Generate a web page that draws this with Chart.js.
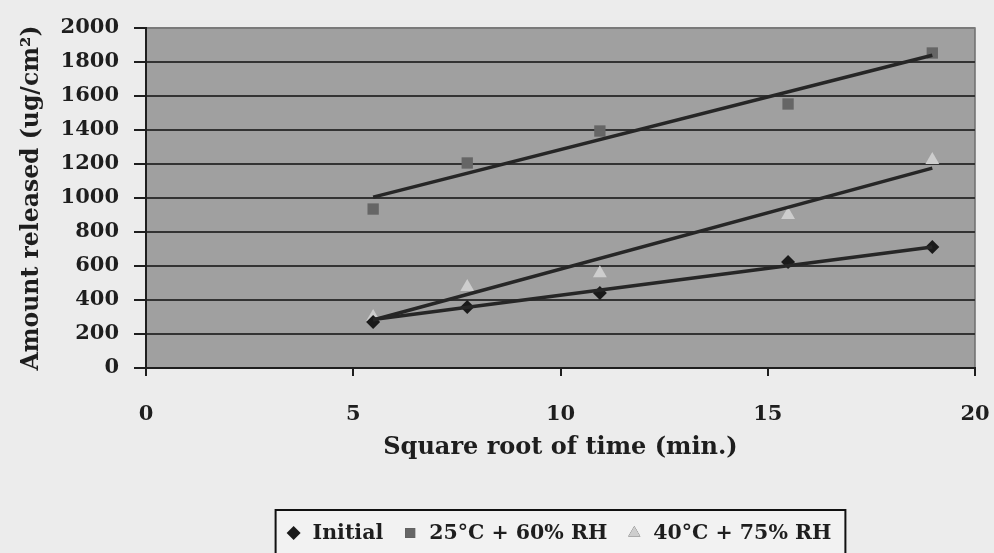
<!DOCTYPE html>
<html>
<head>
<meta charset="utf-8">
<script src="https://cdn.jsdelivr.net/npm/chart.js@4.4.1/dist/chart.umd.min.js"></script>
<style>
  html, body { margin: 0; padding: 0; background: #ececec; }
  #wrap { width: 994px; height: 553px; }
</style>
</head>
<body>
<div id="wrap"><canvas id="chart" width="994" height="553"></canvas></div>
<script>
// square root of time (min.) for 30, 60, 120, 240, 360 min
const sqrtTime = [5.48, 7.75, 10.95, 15.49, 18.97];
const initial = [270, 359, 441, 624, 712];
const rh60 = [935, 1206, 1394, 1553, 1853];
const rh75 = [300, 476, 558, 900, 1224];

// fitted trend lines, ends
const trendX = [5.48, 18.97];
const trendInitial = [285, 712];
const trendRh60 = [1005, 1840];
const trendRh75 = [282, 1176];

const seriesNames = ['Initial', '25°C + 60% RH', '40°C + 75% RH'];
const yTicks = [0, 200, 400, 600, 800, 1000, 1200, 1400, 1600, 1800, 2000];
const xTicks = [0, 5, 10, 15, 20];

const FONT = '"DejaVu Serif", "Liberation Serif", serif';
const INK = '#1e1e1e';

const pts = (xs, ys) => xs.map((x, i) => ({ x: x, y: ys[i] }));

const markerStyles = [
  { pointStyle: 'rectRot', color: '#1a1a1a', radius: 7 },
  { pointStyle: 'rect', color: '#666666', radius: 8 },
  { pointStyle: 'triangle', color: '#cdcdcd', radius: 8 }
];

const plotBg = {
  id: 'plotBg',
  beforeDraw(chart) {
    const a = chart.chartArea, ctx = chart.ctx;
    ctx.save();
    ctx.fillStyle = '#a0a0a0';
    ctx.fillRect(a.left, a.top, a.right - a.left, a.bottom - a.top);
    ctx.strokeStyle = '#6e6e6e';
    ctx.lineWidth = 1.5;
    ctx.strokeRect(a.left, a.top, a.right - a.left, a.bottom - a.top);
    ctx.restore();
  }
};

// boxed legend under the axis title, runs into the bottom edge
const boxLegend = {
  id: 'boxLegend',
  afterDraw(chart) {
    const ctx = chart.ctx;
    const a = chart.chartArea;
    ctx.save();
    ctx.font = 'bold 20.5px ' + FONT;
    ctx.textBaseline = 'middle';
    const toText = 19, toNext = 27, padL = 18;
    const widths = seriesNames.map(n => ctx.measureText(n).width);
    const inner = widths.reduce((s, w) => s + toText + w, 0) + toNext * (seriesNames.length - 1);
    const boxW = inner + padL * 2 - 4;
    const top = 510, boxH = 48, cy = 533;
    const left = (a.left + a.right) / 2 - boxW / 2;
    ctx.fillStyle = '#f2f2f2';
    ctx.fillRect(left, top, boxW, boxH);
    ctx.strokeStyle = '#111';
    ctx.lineWidth = 2;
    ctx.strokeRect(left, top, boxW, boxH);
    let x = left + padL;
    seriesNames.forEach((name, i) => {
      const m = markerStyles[i];
      Chart.helpers.drawPoint(ctx, { pointStyle: m.pointStyle, radius: 7, rotation: 0 }, x, cy);
      ctx.fillStyle = m.color;
      ctx.fill();
      ctx.fillStyle = INK;
      ctx.fillText(name, x + toText, cy + 1);
      x += toText + widths[i] + toNext;
    });
    ctx.restore();
  }
};

const scatterSet = (label, data, m) => ({
  label: label,
  data: data,
  showLine: false,
  pointStyle: m.pointStyle,
  pointRadius: m.radius,
  pointBackgroundColor: m.color,
  pointBorderColor: m.color,
  pointBorderWidth: 0,
  order: 2
});

const trendSet = (label, data) => ({
  label: label,
  data: data,
  showLine: true,
  borderColor: '#262626',
  borderWidth: 3.5,
  pointRadius: 0,
  order: 1
});

const tickFont = { family: FONT, size: 21, weight: 'bold' };

new Chart(document.getElementById('chart'), {
  type: 'scatter',
  data: {
    datasets: [
      scatterSet(seriesNames[0], pts(sqrtTime, initial), markerStyles[0]),
      scatterSet(seriesNames[1], pts(sqrtTime, rh60), markerStyles[1]),
      scatterSet(seriesNames[2], pts(sqrtTime, rh75), markerStyles[2]),
      trendSet('trend initial', pts(trendX, trendInitial)),
      trendSet('trend 60', pts(trendX, trendRh60)),
      trendSet('trend 75', pts(trendX, trendRh75))
    ]
  },
  options: {
    responsive: false,
    animation: false,
    layout: { padding: { left: 0, right: 19, top: 28, bottom: 85 } },
    plugins: {
      legend: { display: false },
      tooltip: { enabled: false }
    },
    scales: {
      x: {
        type: 'linear',
        min: 0,
        max: 20,
        afterBuildTicks: s => { s.ticks = xTicks.map(v => ({ value: v })); },
        afterFit: s => { s.height = 100; s.paddingLeft = 0; s.paddingRight = 0; },
        grid: { drawOnChartArea: false, drawTicks: true, tickLength: 8, tickColor: INK, lineWidth: 2 },
        border: { display: true, color: INK, width: 2 },
        ticks: { padding: 26, color: INK, font: tickFont, callback: v => String(v) },
        title: {
          display: true,
          text: 'Square root of time (min.)',
          color: INK,
          padding: 6,
          font: { family: FONT, size: 24, weight: 'bold' }
        }
      },
      y: {
        min: 0,
        max: 2000,
        afterBuildTicks: s => { s.ticks = yTicks.map(v => ({ value: v })); },
        afterFit: s => { s.width = 146; },
        grid: {
          color: c => c.tick && c.tick.value === 2000 ? '#7a7a7a' : '#333333',
          lineWidth: 2,
          tickLength: 12,
          tickColor: INK
        },
        border: { display: true, color: INK, width: 2 },
        ticks: { padding: 15, color: INK, font: tickFont, callback: v => String(v) },
        title: {
          display: true,
          text: 'Amount released (ug/cm²)',
          color: INK,
          padding: 18,
          font: { family: FONT, size: 23.5, weight: 'bold' }
        }
      }
    }
  },
  plugins: [plotBg, boxLegend]
});
</script>
</body>
</html>
